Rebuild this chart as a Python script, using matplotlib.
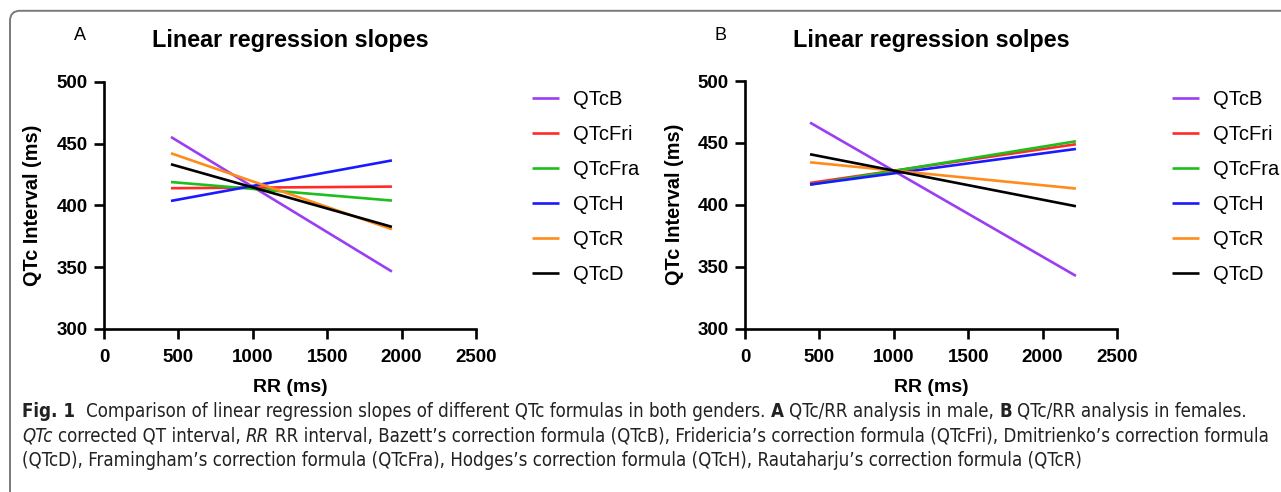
import matplotlib
matplotlib.use('Agg')
import matplotlib.pyplot as plt
from matplotlib.patches import FancyBboxPatch
from matplotlib.transforms import IdentityTransform

# Series labels and colours (same order in both panels)
formulas = ['QTcB', 'QTcFri', 'QTcFra', 'QTcH', 'QTcR', 'QTcD']
colors = ['#9b3df2', '#ff2a2a', '#1dbf1d', '#1a1aff', '#ff8c1a', '#000000']

# Panel A (male): regression line end points
rr_male = [450, 1935]
male_start = [455.5, 414.0, 419.0, 403.7, 442.3, 433.4]
male_end = [346.5, 415.3, 404.0, 436.5, 380.8, 382.7]

# Panel B (female)
rr_female = [437, 2224]
female_start = [466.4, 417.6, 416.3, 416.3, 434.3, 440.8]
female_end = [342.5, 448.9, 451.3, 445.1, 413.1, 398.8]

x_ticks = [0, 500, 1000, 1500, 2000, 2500]
y_ticks = [300, 350, 400, 450, 500]

W, H = 1281, 492
plt.rcParams['font.family'] = ['Liberation Sans', 'DejaVu Sans']
cap_family = 'DejaVu Sans'

fig = plt.figure(figsize=(W / 100, H / 100), dpi=100)


def px(x, y):
    return x / W, 1 - y / H


def setup_axes(ax):
    for s in ['top', 'right']:
        ax.spines[s].set_visible(False)
    for s in ['left', 'bottom']:
        ax.spines[s].set_linewidth(1.9)
    ax.set_xlim(0, 2500)
    ax.set_ylim(300, 500)
    ax.set_xticks(x_ticks)
    ax.set_yticks(y_ticks)
    ax.tick_params(width=1.9, length=7, pad=4.5, labelsize=13.5)
    ax.tick_params(axis='x', pad=7.5)
    for lab in ax.get_xticklabels() + ax.get_yticklabels():
        lab.set_fontweight('bold')
    ax.patch.set_alpha(0)


panels = [
    ([104, 82, 476, 329], rr_male, male_start, male_end, 'A', 'Linear regression slopes', 532),
    ([745, 81, 1117, 328.5], rr_female, female_start, female_end, 'B', 'Linear regression solpes', 1172),
]

for (x0, y0, x1, y1), rr, starts, ends, letter, title, leg_x in panels:
    ax = fig.add_axes([x0 / W, 1 - y1 / H, (x1 - x0) / W, (y1 - y0) / H])
    setup_axes(ax)
    handles = []
    for name, c, a, b in zip(formulas, colors, starts, ends):
        h, = ax.plot(rr, [a, b], color=c, lw=1.9, label=name, solid_capstyle='butt')
        handles.append(h)
    cx = (x0 + x1) / 2
    fig.text(*px(x0 - 24, 35), letter, ha='center', va='center', fontsize=13)
    fig.text(*px(cx, 40), title, ha='center', va='center', fontsize=16.8, fontweight='bold')
    fig.text(*px(x0 - 71, (y0 + y1) / 2), 'QTc Interval (ms)', rotation=90,
             ha='center', va='center', fontsize=14.3, fontweight='bold')
    fig.text(*px(cx, 388), 'RR (ms)', ha='center', va='center', fontsize=14, fontweight='bold')
    fig.legend(handles=handles, loc='upper left', bbox_to_anchor=px(leg_x, 90),
               frameon=False, fontsize=14.5, handlelength=1.34, handletextpad=0.7,
               labelspacing=0.79, borderpad=0, borderaxespad=0)

# Rounded frame around the figure
frame = FancyBboxPatch((10, -30), 1400, H - 10.8 + 30,
                       boxstyle='round,pad=0,rounding_size=10',
                       transform=IdentityTransform(), fill=False,
                       ec='#7a7a7a', lw=1.4)
fig.add_artist(frame)

# Caption with mixed bold / italic runs
caption = [
    [('Fig. 1', 'bold'), ('  Comparison of linear regression slopes of different QTc formulas in both genders. ', 'normal'),
     ('A', 'bold'), (' QTc/RR analysis in male, ', 'normal'), ('B', 'bold'), (' QTc/RR analysis in females.', 'normal')],
    [('QTc', 'italic'), (' corrected QT interval, ', 'normal'), ('RR', 'italic'),
     (' RR interval, Bazett\u2019s correction formula (QTcB), Fridericia\u2019s correction formula (QTcFri), '
      'Dmitrienko\u2019s correction formula', 'normal')],
    [('(QTcD), Framingham\u2019s correction formula (QTcFra), Hodges\u2019s correction formula (QTcH), '
      'Rautaharju\u2019s correction formula (QTcR)', 'normal')],
]
baselines = [417, 441.5, 466]

renderer = fig.canvas.get_renderer()


def style_kw(style):
    kw = {'family': cap_family, 'fontstretch': 'condensed'}
    if style == 'bold':
        kw['fontweight'] = 'bold'
    if style == 'italic':
        kw['fontstyle'] = 'italic'
    return kw


def text_width(s, style, size):
    t = fig.text(0, 0, s, fontsize=size, **style_kw(style))
    w = t.get_window_extent(renderer).width
    t.remove()
    return w


def space_width(size):
    return text_width('x x', 'normal', size) - text_width('xx', 'normal', size)


def run_width(s, style, size):
    core = s.strip(' ')
    n_sp = len(s) - len(core)
    return (text_width(core, style, size) if core else 0) + n_sp * space_width(size)


# fit font size so that the first line spans the measured width
base = 10
w0 = sum(run_width(s, st, base) for s, st in caption[0])
cap_size = base * (1250 - 22) / w0
sp = space_width(cap_size)

for line, yb in zip(caption, baselines):
    x = 22
    for s, style in line:
        x += (len(s) - len(s.lstrip(' '))) * sp
        t = fig.text(x, H - yb, s.strip(' '), transform=IdentityTransform(), fontsize=cap_size,
                     va='baseline', ha='left', color='#222222', **style_kw(style))
        x = t.get_window_extent(renderer).x1
        x += (len(s) - len(s.rstrip(' '))) * sp

fig.savefig('out.png', dpi=100)
